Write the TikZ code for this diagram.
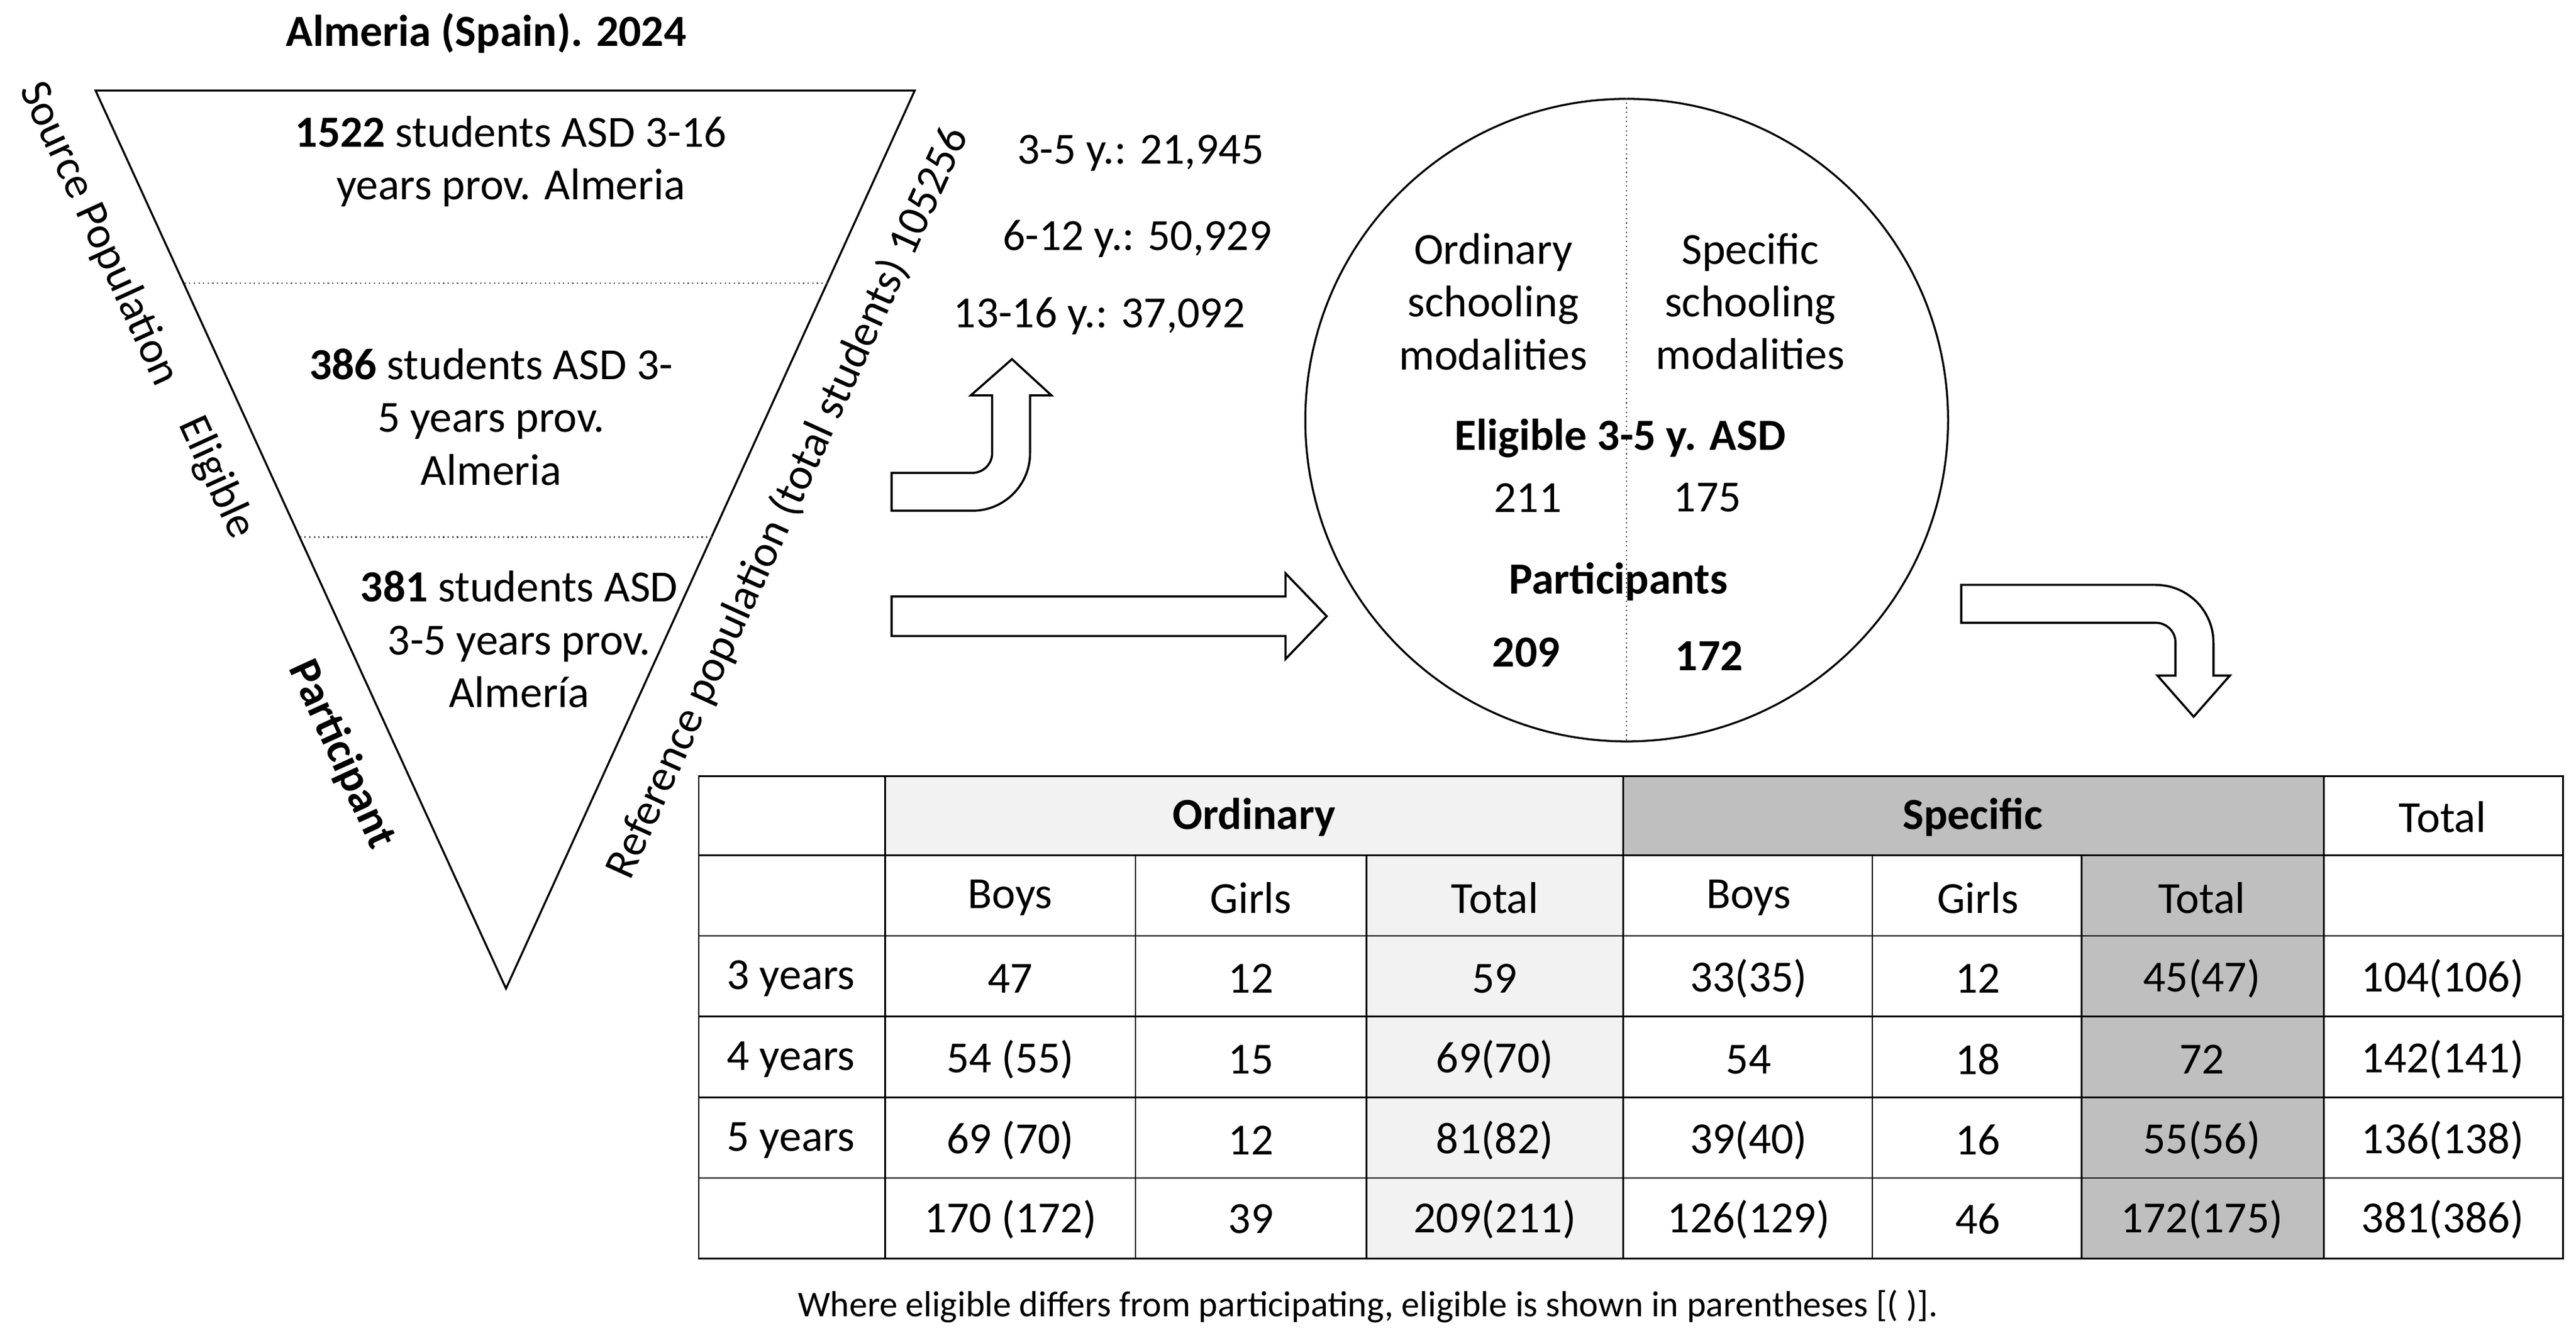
\documentclass[tikz,border=0pt]{standalone}
\usepackage{fontspec}
\setmainfont{Carlito}
\begin{document}
\begin{tikzpicture}[x=1pt,y=1pt,
  txt/.style={font=\fontsize{27}{32}\selectfont,align=center,inner sep=0},
  bold/.style={font=\fontsize{27}{32}\selectfont\bfseries},
  cell/.style={font=\fontsize{27}{32}\selectfont,inner sep=0},
  hollow/.style={draw=black,line width=1.3pt,fill=white},
  dotl/.style={dotted,line width=0.8pt,black!70}]
\useasboundingbox (0,0) rectangle (1563,-812);
% triangle
\coordinate (tl) at (58,-55); \coordinate (tr) at (555,-55); \coordinate (tb) at (307,-600);
\draw[line width=1.2pt] (tl) -- (tr) -- (tb) -- cycle;
\coordinate (d1a) at (112,-172); \coordinate (d1b) at (502,-172);
\coordinate (d2a) at (182,-326); \coordinate (d2b) at (432,-326);
\draw[dotl] (d1a) -- (d1b);
\draw[dotl] (d2a) -- (d2b);
\node[txt,bold] (title) at (295,-20) {Almeria (Spain). 2024};
\node[txt] (t1) at (310,-98) {\textbf{1522} students ASD 3-16\\years prov. Almeria};
\node[txt] (t2) at (298,-253) {\textbf{386} students ASD 3-\\5 years prov.\\Almeria};
\node[txt] (t3) at (315,-388) {\textbf{381} students ASD\\3-5 years prov.\\Almería};
\node[txt,rotate=-65.4] (sp) at (60,-142) {Source Population};
\node[txt,rotate=-65.4] (el) at (131,-290) {Eligible};
\node[txt,bold,rotate=-65.4] (pa) at (207,-458) {Participant};
\node[txt,rotate=65.6] (rp) at (478,-305) {Reference population (total students) 105256};
% ages
\node[txt] (a1) at (692,-93) {3-5 y.: 21,945};
\node[txt] (a2) at (690,-145) {6-12 y.: 50,929};
\node[txt] (a3) at (667,-192) {13-16 y.: 37,092};
% curved arrow 1
\draw[hollow] (541,-310) -- (590,-310) arc[start angle=-90,end angle=0,radius=35]
  -- (625,-240) -- (638,-240) -- (614,-218) -- (589,-240) -- (602,-240) -- (602,-275)
  arc[start angle=0,end angle=-90,radius=12] -- (541,-287) -- cycle;
% straight arrow
\draw[hollow] (541,-362) -- (780,-362) -- (780,-348) -- (805,-374) -- (780,-400) -- (780,-386) -- (541,-386) -- cycle;
% circle
\node[draw,line width=1.2pt,circle,minimum size=390pt,inner sep=0] (circ) at (987,-255) {};
\draw[dotl] (circ.north) -- (circ.south);
\node[txt] (c1) at (906,-183) {Ordinary\\schooling\\modalities};
\node[txt] (c2) at (1062,-183) {Specific\\schooling\\modalities};
\node[txt,bold] (c3) at (983,-266) {Eligible 3-5 y. ASD};
\node[txt] (c4) at (927,-302) {211};
\node[txt] (c5) at (1036,-302) {175};
\node[txt,bold] (c6) at (982,-353) {Participants};
\node[txt,bold] (c7) at (926,-396) {209};
\node[txt,bold] (c8) at (1037,-398) {172};
% bent arrow 2
\draw[hollow] (1190,-355) -- (1308,-355) arc[start angle=90,end angle=0,radius=35]
  -- (1343,-410) -- (1353,-410) -- (1331,-435) -- (1309,-410) -- (1320,-410) -- (1320,-390)
  arc[start angle=0,end angle=90,radius=12] -- (1190,-378) -- cycle;
% table fills
\fill[gray!10] (537,-471) rectangle (985,-519);
\fill[gray!10] (829,-519) rectangle (985,-764);
\fill[gray!50] (985,-471) rectangle (1410,-519);
\fill[gray!50] (1263,-519) rectangle (1410,-764);
\draw[line width=1pt] (424,-471) rectangle (1555,-764);
\foreach \y in {519,568,617,666,715} \draw[line width=1pt] (424,-\y) -- (1555,-\y);
\foreach \x in {537,985,1410} \draw[line width=1pt] (\x,-471) -- (\x,-764);
\foreach \x in {689,829,1136,1263} \draw[line width=1pt] (\x,-519) -- (\x,-764);
\node[cell,bold] (h1) at (761,-496) {Ordinary};
\node[cell,bold] (h2) at (1197,-496) {Specific};
\node[cell] (h3) at (1482,-496) {Total};
\foreach \x/\t [count=\i] in {613/Boys,759/Girls,907/Total,1061/Boys,1200/Girls,1336/Total}
  \node[cell] (s\i) at (\x,-545) {\t};
\newcommand\trow[9]{%
  \node[cell] (r#1a) at (480,-#2) {#3};
  \node[cell] (r#1b) at (613,-#2) {#4};
  \node[cell] (r#1c) at (759,-#2) {#5};
  \node[cell] (r#1d) at (907,-#2) {#6};
  \node[cell] (r#1e) at (1061,-#2) {#7};
  \node[cell] (r#1f) at (1200,-#2) {#8};
  \node[cell] (r#1g) at (1336,-#2) {#9};}
\trow{1}{594}{3 years}{47}{12}{59}{33(35)}{12}{45(47)}
\trow{2}{643}{4 years}{54 (55)}{15}{69(70)}{54}{18}{72}
\trow{3}{692}{5 years}{69 (70)}{12}{81(82)}{39(40)}{16}{55(56)}
\trow{4}{740}{}{170 (172)}{39}{209(211)}{126(129)}{46}{172(175)}
\node[cell] (r1h) at (1482,-594) {104(106)};
\node[cell] (r2h) at (1482,-643) {142(141)};
\node[cell] (r3h) at (1482,-692) {136(138)};
\node[cell] (r4h) at (1482,-740) {381(386)};
\node[cell,font=\fontsize{22}{26}\selectfont] (foot) at (830,-793) {Where eligible differs from participating, eligible is shown in parentheses [( )].};
\end{tikzpicture}
\end{document}
